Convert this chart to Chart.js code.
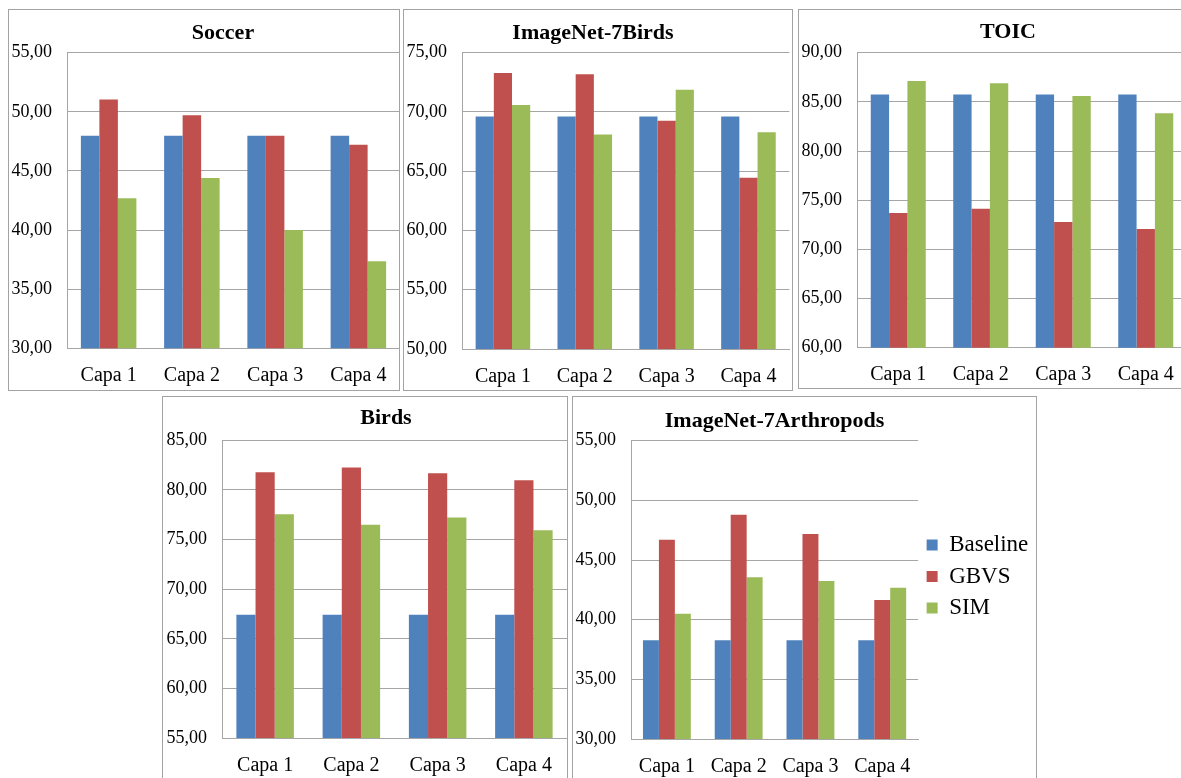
<!DOCTYPE html>
<html>
<head>
<meta charset="utf-8">
<script src="https://cdn.jsdelivr.net/npm/chart.js@4/dist/chart.umd.min.js"></script>
<style>
  html, body { margin: 0; padding: 0; background: #fff; }
  body { width: 1181px; height: 778px; position: relative; overflow: hidden; }
  .frame { position: absolute; box-sizing: border-box; border: 1px solid #a3a3a3; overflow: hidden; background: #fff; }
  .frame canvas { position: absolute; }
</style>
</head>
<body>
<script>
// Categories and series
const categories = ['Capa 1', 'Capa 2', 'Capa 3', 'Capa 4'];
const seriesNames = ['Baseline', 'GBVS', 'SIM'];

// Soccer
const soccerBaseline = [47.98, 47.98, 47.98, 47.98];
const soccerGBVS = [51.05, 49.70, 47.98, 47.22];
const soccerSIM = [42.68, 44.40, 40.00, 37.36];
const soccerRange = [30, 55];

// ImageNet-7Birds
const birds7Baseline = [69.60, 69.60, 69.60, 69.60];
const birds7GBVS = [73.28, 73.17, 69.24, 64.43];
const birds7SIM = [70.58, 68.08, 71.85, 68.28];
const birds7Range = [50, 75];

// TOIC
const toicBaseline = [85.74, 85.74, 85.74, 85.74];
const toicGBVS = [73.70, 74.14, 72.79, 72.08];
const toicSIM = [87.13, 86.89, 85.60, 83.85];
const toicRange = [60, 90];

// Birds
const birdsBaseline = [67.43, 67.43, 67.43, 67.43];
const birdsGBVS = [81.78, 82.25, 81.67, 80.97];
const birdsSIM = [77.54, 76.50, 77.21, 75.93];
const birdsRange = [55, 85];

// ImageNet-7Arthropods
const arthBaseline = [38.27, 38.27, 38.27, 38.27];
const arthGBVS = [46.70, 48.80, 47.18, 41.65];
const arthSIM = [40.50, 43.55, 43.24, 42.68];
const arthRange = [30, 55];

const tickStep = 5;

// Styling
const seriesColors = ['#4F81BD', '#C0504D', '#9BBB59'];
const SERIF = '"Liberation Serif", "Times New Roman", serif';
const gridColor = '#a6a6a6';

// Panel boxes: frame rectangle, canvas origin/size, y-axis width,
// spacer width on the right (keeps the title centred), x-axis height
const panels = [
  { title: 'Soccer', data: [soccerBaseline, soccerGBVS, soccerSIM], range: soccerRange,
    frame: [8, 9, 392, 382], cx: 8, cy: 9, w: 430, h: 382, yW: 59, rW: 38, xH: 42.7, padR: 0,
    tPad: { top: 10.8, bottom: 6.5 }, legend: false },
  { title: 'ImageNet-7Birds', data: [birds7Baseline, birds7GBVS, birds7SIM], range: birds7Range,
    frame: [403, 9, 390, 382], cx: 394, cy: 9, w: 398, h: 382, yW: 68, rW: 0, xH: 42, padR: 0,
    tPad: { top: 10.8, bottom: 6.3 }, legend: false },
  { title: 'TOIC', data: [toicBaseline, toicGBVS, toicSIM], range: toicRange,
    frame: [798, 9, 400, 380], cx: 798, cy: 9, w: 420, h: 380, yW: 59, rW: 31, xH: 41.3, padR: 0,
    tPad: { top: 10.1, bottom: 7.2 }, legend: false },
  { title: 'Birds', data: [birdsBaseline, birdsGBVS, birdsSIM], range: birdsRange,
    frame: [162, 396, 406, 400], cx: 162, cy: 396, w: 448, h: 384, yW: 60, rW: 43, xH: 42, padR: 0,
    tPad: { top: 8.8, bottom: 9.1 }, legend: false },
  { title: 'ImageNet-7Arthropods', data: [arthBaseline, arthGBVS, arthSIM], range: arthRange,
    frame: [572, 396, 465, 400], cx: 572, cy: 372, w: 465, h: 409, yW: 59, rW: 0, xH: 42, padR: 3.5,
    tPad: { top: 36.1, bottom: 6.2 }, legend: true }
];

const fmt = v => v.toFixed(2).replace('.', ',');

panels.forEach(p => {
  const frame = document.createElement('div');
  frame.className = 'frame';
  const [fx, fy, fw, fh] = p.frame;
  frame.style.left = fx + 'px';
  frame.style.top = fy + 'px';
  frame.style.width = fw + 'px';
  frame.style.height = fh + 'px';
  const canvas = document.createElement('canvas');
  canvas.width = p.w;
  canvas.height = p.h;
  canvas.style.width = p.w + 'px';
  canvas.style.height = p.h + 'px';
  canvas.style.left = (p.cx - fx - 1) + 'px';
  canvas.style.top = (p.cy - fy - 1) + 'px';
  frame.appendChild(canvas);
  document.body.appendChild(frame);

  const scales = {
    x: {
      offset: true,
      grid: { display: false, drawTicks: false },
      border: { display: true, color: gridColor, width: 1 },
      ticks: { color: '#000', padding: 15.5, maxRotation: 0, autoSkip: false,
               font: { family: SERIF, size: 20 } },
      afterFit: s => { s.height = p.xH; }
    },
    y: {
      min: p.range[0],
      max: p.range[1],
      grid: { color: gridColor, lineWidth: 1, drawTicks: false },
      border: { display: true, color: gridColor, width: 1 },
      ticks: { stepSize: tickStep, color: '#000', padding: 15,
               font: { family: SERIF, size: 18 }, callback: v => fmt(v) },
      afterFit: s => { s.width = p.yW; }
    }
  };
  if (p.rW > 0) {
    // empty right-hand spacer so the title sits over the whole chart frame
    scales.spacer = {
      type: 'linear',
      position: 'right',
      display: true,
      grid: { display: false, drawTicks: false },
      border: { display: false },
      ticks: { display: false },
      afterFit: s => { s.width = p.rW; }
    };
  }

  new Chart(canvas, {
    type: 'bar',
    data: {
      labels: categories,
      datasets: seriesNames.map((name, i) => ({
        label: name,
        data: p.data[i],
        backgroundColor: seriesColors[i],
        borderWidth: 0,
        categoryPercentage: 3 / 4.5,
        barPercentage: 1
      }))
    },
    options: {
      responsive: false,
      animation: false,
      devicePixelRatio: 1,
      events: [],
      layout: { padding: { left: 0, right: p.padR, top: 0, bottom: 0 } },
      plugins: {
        title: {
          display: true,
          text: p.title,
          color: '#000',
          fullSize: !p.legend,
          font: { family: SERIF, size: 22, weight: 'bold', lineHeight: 1.2 },
          padding: p.tPad
        },
        legend: {
          display: p.legend,
          position: 'right',
          align: 'center',
          fullSize: true,
          labels: {
            boxWidth: 11,
            boxHeight: 11,
            padding: 8.5,
            color: '#000',
            font: { family: SERIF, size: 23 }
          }
        },
        tooltip: { enabled: false }
      },
      scales
    }
  });
});
</script>
</body>
</html>
